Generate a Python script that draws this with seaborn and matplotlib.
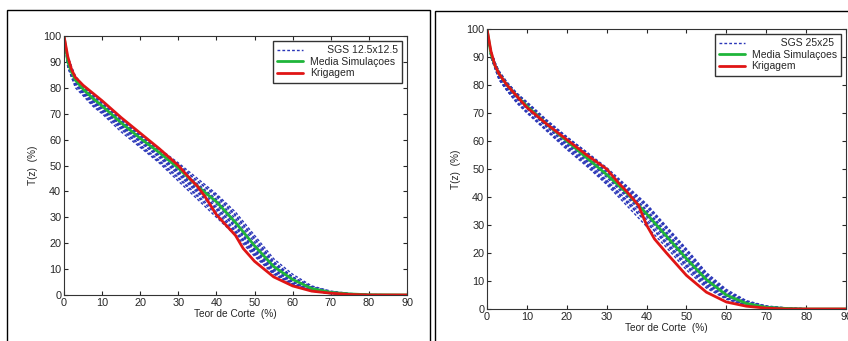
"""Curvas de parametrizacao T(z): simulacoes SGS vs krigagem."""

import matplotlib
matplotlib.use("Agg")
import matplotlib.pyplot as plt
import seaborn as sns
from matplotlib.patches import Rectangle

# grade de teores de corte comum as simulacoes
cut_grid = [0, 1, 2, 3, 5, 7.5, 10, 15, 20, 25, 30, 35, 40, 45, 50, 55, 60, 65, 70, 75, 80, 90]

# painel esquerdo - SGS 12.5x12.5
sgs_left = [
    [100, 88, 84, 80, 77, 73, 70, 63, 57, 51, 44, 37, 30, 23, 15, 8, 4, 1.5, 0.5, 0.2, 0, 0],
    [100, 89, 85, 82, 78, 74.5, 71.5, 65, 59, 53, 46.5, 39.5, 33, 25, 16.5, 9, 4.5, 2, 0.7, 0.2, 0, 0],
    [100, 90, 86, 82.5, 79, 75.5, 72.5, 66, 60, 54, 48, 41, 35, 27, 18, 10.5, 5.5, 2.3, 0.9, 0.3, 0.1, 0],
    [100, 91, 87, 83.5, 80, 76.5, 73.5, 67, 61, 55.5, 49.5, 43, 37, 29.5, 20.5, 12, 6.5, 2.8, 1.1, 0.4, 0.1, 0],
    [100, 91, 87, 84, 80.5, 77, 74, 67.5, 61.5, 56, 50.5, 44, 38.5, 31, 22, 13, 7, 3.2, 1.3, 0.5, 0.1, 0],
    [100, 90, 86, 83, 79, 75, 72, 65.5, 59.5, 54, 47.5, 40.5, 34, 26, 17, 9.5, 5, 2, 0.8, 0.3, 0, 0],
    [100, 89, 85, 81.5, 78, 74, 71, 64.5, 58, 52, 45.5, 38.5, 32, 24.5, 16, 8.5, 4.5, 1.8, 0.6, 0.2, 0, 0],
    [100, 92, 88, 84.5, 81, 77.5, 74.5, 68, 62, 56.5, 51, 45, 39, 32, 23, 14, 8, 3.5, 1.5, 0.6, 0.2, 0],
    [100, 90, 86, 82, 78.5, 75, 72, 65.5, 59, 53.5, 47, 40, 33.5, 26.5, 17.5, 10, 5, 2.1, 0.8, 0.3, 0, 0],
    [100, 91, 87, 83, 79.5, 76, 73, 66.5, 60.5, 55, 49, 42.5, 36.5, 28.5, 19.5, 11.5, 6, 2.6, 1, 0.4, 0.1, 0],
    [100, 88, 84, 81, 77.5, 73.5, 70.5, 64, 57.5, 51.5, 45, 38, 31, 24, 15.5, 8.5, 4.2, 1.6, 0.6, 0.2, 0, 0],
    [100, 92, 88, 84, 80.5, 77, 74, 67.5, 61.5, 56, 50, 44, 38, 30.5, 21.5, 12.5, 7, 3, 1.2, 0.5, 0.1, 0],
]
media_left = [100, 90, 86, 83, 79.5, 76, 73, 66.5, 60.5, 55, 49, 42, 36, 28, 19, 11, 6, 2.5, 1, 0.4, 0.1, 0]
krig_left_x = [0, 1, 2, 3, 5, 7.5, 10, 15, 20, 25, 30, 33, 35, 37, 40, 45, 47, 50, 55, 60, 65, 70, 75, 80, 90]
krig_left = [100, 92, 87, 84, 81, 78, 75, 68.5, 62.5, 56.5, 50, 45, 42, 38, 31, 23, 18, 13, 7, 3.5, 1.5, 0.7, 0.2, 0, 0]

# painel direito - SGS 25x25
sgs_right = [
    [100, 90, 86, 82, 78, 73.5, 70, 63.5, 57, 51, 44.5, 37, 29.5, 22, 14, 7.5, 3.5, 1.2, 0.4, 0.1, 0, 0],
    [100, 90, 86, 83, 79, 75, 71.5, 65, 58.5, 52.5, 46, 39, 32, 24, 16, 9, 4, 1.5, 0.5, 0.1, 0, 0],
    [100, 91, 87, 83.5, 79.5, 75.5, 72, 65.5, 59.5, 53.5, 47.5, 40.5, 33.5, 25.5, 17.5, 10, 4.8, 1.9, 0.6, 0.2, 0, 0],
    [100, 92, 88, 84.5, 80.5, 76.5, 73, 66.5, 60.5, 55, 49, 42.5, 35.5, 27.5, 19.5, 11.5, 5.8, 2.4, 0.8, 0.3, 0.1, 0],
    [100, 92, 88, 85, 81, 77, 73.5, 67, 61.5, 56, 50, 43.5, 37, 29, 21, 12.5, 6.5, 2.8, 1, 0.4, 0.1, 0],
    [100, 91, 87, 84, 80, 76, 72.5, 66, 60, 54.5, 48, 41, 34.5, 26.5, 18.5, 10.5, 5.2, 2.1, 0.7, 0.2, 0, 0],
    [100, 90, 86, 82.5, 78.5, 74, 70.5, 64, 57.5, 51.5, 45, 38, 31, 23, 15, 8, 3.8, 1.4, 0.4, 0.1, 0, 0],
    [100, 92, 88, 84.5, 80.5, 77, 73.5, 67, 61, 55.5, 49.5, 43, 36.5, 28.5, 20.5, 12, 6.2, 2.6, 0.9, 0.3, 0.1, 0],
    [100, 91, 87, 83, 79, 75, 71.5, 65, 59, 53, 47, 40, 33, 25, 17, 9.5, 4.5, 1.7, 0.5, 0.1, 0, 0],
    [100, 92, 88, 84, 80, 76.5, 73, 66.5, 60.5, 55, 48.5, 42, 35, 27, 19, 11, 5.5, 2.2, 0.7, 0.2, 0, 0],
    [100, 90, 86, 82, 78, 74, 70.5, 64, 58, 52, 45.5, 38.5, 31, 23.5, 15.5, 8.5, 3.8, 1.3, 0.4, 0.1, 0, 0],
    [100, 92, 88, 85, 81, 77, 74, 67.5, 61.5, 56, 50.5, 44, 37.5, 29.5, 21.5, 13, 7, 3, 1.1, 0.4, 0.1, 0],
]
media_right = [100, 91, 87, 84, 80, 76, 72.5, 66, 60, 54, 48, 41.5, 34, 26, 18, 10.5, 5, 2, 0.6, 0.2, 0, 0]
krig_right_x = [0, 1, 2, 3, 5, 7.5, 10, 15, 20, 25, 30, 33, 35, 38, 40, 42, 45, 50, 55, 60, 65, 70, 75, 80, 90]
krig_right = [100, 92, 87, 84, 80, 76, 72, 66, 60.5, 55, 50, 45, 42, 37, 30, 25, 20, 12, 6, 2.5, 1, 0.3, 0, 0, 0]

sgs_labels = ["      SGS 12.5x12.5", "          SGS 25x25"]

sns.set_style("ticks")
plt.rcParams["font.family"] = ["Liberation Sans", "DejaVu Sans"]

BLUE = "#2a36b8"
GREEN = "#1fb53a"
RED = "#e01515"

fig = plt.figure(figsize=(8.48, 3.41), dpi=100)
W, H = 848, 341

# molduras externas dos dois quadros
fig.patches.append(Rectangle((7 / W, -0.05), (430 - 7) / W, 1.05 - 10 / H,
                             transform=fig.transFigure, fill=False, ec="black", lw=1.0))
fig.patches.append(Rectangle((435 / W, -0.05), 0.6, 1.05 - 11 / H,
                             transform=fig.transFigure, fill=False, ec="black", lw=1.0))

ax_l = fig.add_axes([64 / W, 1 - 295 / H, (407 - 64) / W, (295 - 36) / H])
ax_r = fig.add_axes([487 / W, 1 - 309 / H, (846 - 487) / W, (309 - 29) / H])

panels = [
    (ax_l, sgs_left, media_left, krig_left_x, krig_left, sgs_labels[0]),
    (ax_r, sgs_right, media_right, krig_right_x, krig_right, sgs_labels[1]),
]

for ax, sims, media, kx, krig, lab in panels:
    for i, sim in enumerate(sims):
        sns.lineplot(x=cut_grid, y=sim, ax=ax, color=BLUE, lw=1.0,
                     linestyle=(0, (2, 1.5)), label=lab if i == 0 else None)
    sns.lineplot(x=cut_grid, y=media, ax=ax, color=GREEN, lw=2.0,
                 label="Media Simulaçoes")
    sns.lineplot(x=kx, y=krig, ax=ax, color=RED, lw=2.0, label="Krigagem")

    ax.set_xlim(0, 90)
    ax.set_ylim(0, 100)
    ax.set_xticks(range(0, 91, 10))
    ax.set_yticks(range(0, 101, 10))
    ax.tick_params(direction="in", length=3, width=0.8, labelsize=7.8,
                   top=True, right=True, pad=2)
    for sp in ax.spines.values():
        sp.set_linewidth(0.8)
        sp.set_color("#333333")
    ax.set_xlabel("Teor de Corte  (%)", fontsize=7.3, labelpad=1)
    ax.set_ylabel("T(z)  (%)", fontsize=7.3, labelpad=4)
    leg = ax.legend(loc="upper right", fontsize=7.5, frameon=True, fancybox=False,
                    handlelength=2.5, borderpad=0.4, labelspacing=0.15,
                    handletextpad=0.6, borderaxespad=0.5)
    leg.get_frame().set_edgecolor("black")
    leg.get_frame().set_linewidth(1.0)

fig.savefig("out.png", dpi=100)
